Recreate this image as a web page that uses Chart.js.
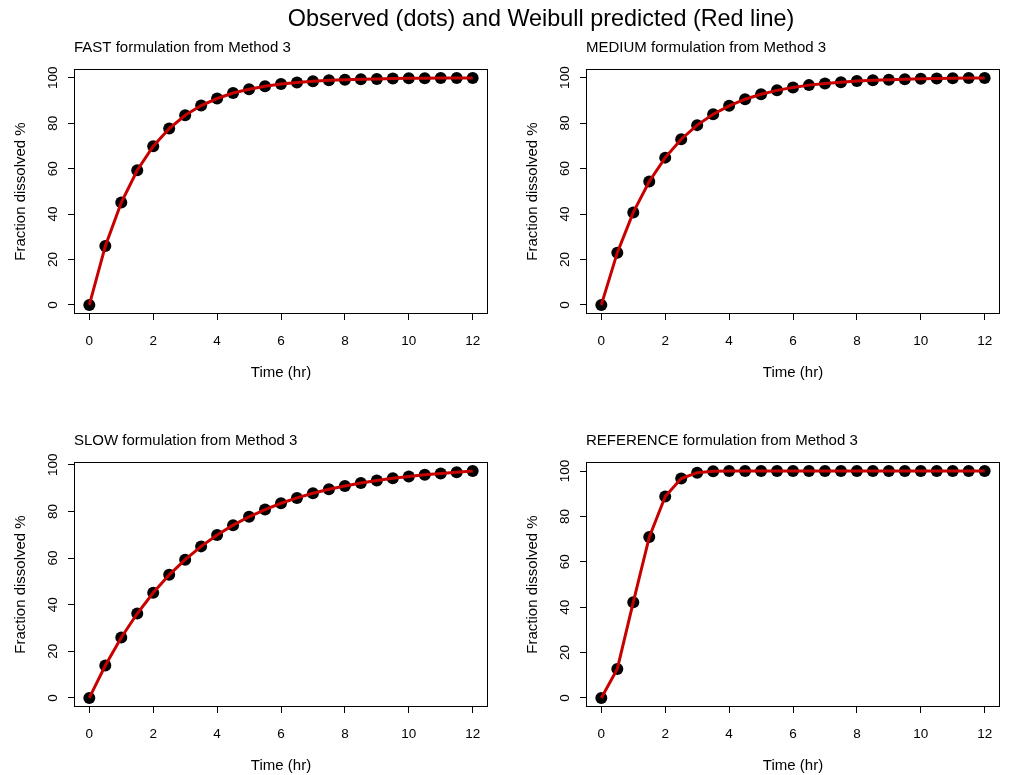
<!DOCTYPE html>
<html>
<head>
<meta charset="utf-8">
<title>Observed (dots) and Weibull predicted (Red line)</title>
<script src="https://cdn.jsdelivr.net/npm/chart.js@4/dist/chart.umd.min.js"></script>
<style>
  html, body { margin: 0; padding: 0; background: #ffffff; }
  body { width: 1017px; height: 775px; position: relative; overflow: hidden; }
  #mainTitle {
    position: absolute; left: 541px; top: 5px; transform: translateX(-50%);
    font-family: 'Liberation Sans', Arial, sans-serif; font-size: 23.4px; line-height: 27px;
    color: #000; white-space: nowrap; z-index: 2;
  }
  canvas { position: absolute; }
</style>
</head>
<body>
<div id="mainTitle">Observed (dots) and Weibull predicted (Red line)</div>
<canvas id="pFast" width="500" height="390" style="left:0px;top:0px"></canvas>
<canvas id="pMedium" width="500" height="390" style="left:511.5px;top:0px"></canvas>
<canvas id="pSlow" width="500" height="390" style="left:0px;top:393px"></canvas>
<canvas id="pReference" width="500" height="390" style="left:511.5px;top:393px"></canvas>
<script>
// Sampling times (hours)
const timeHr = [0, 0.5, 1, 1.5, 2, 2.5, 3, 3.5, 4, 4.5, 5, 5.5, 6, 6.5, 7, 7.5, 8, 8.5, 9, 9.5, 10, 10.5, 11, 11.5, 12];

// Fraction dissolved (%) for each formulation
const fastPct = [0, 25.9, 45.1, 59.3, 69.9, 77.7, 83.5, 87.8, 90.9, 93.3, 95.0, 96.3, 97.3, 98.0, 98.5, 98.9, 99.2, 99.4, 99.5, 99.7, 99.8, 99.8, 99.9, 99.9, 99.9];
const mediumPct = [0, 23.0, 40.7, 54.3, 64.8, 72.9, 79.1, 83.9, 87.6, 90.5, 92.7, 94.4, 95.7, 96.7, 97.4, 98.0, 98.5, 98.8, 99.1, 99.3, 99.5, 99.6, 99.7, 99.8, 99.8];
const slowPct = [0, 13.9, 25.9, 36.2, 45.1, 52.8, 59.3, 65.0, 69.9, 74.1, 77.7, 80.8, 83.5, 85.8, 87.8, 89.5, 90.9, 92.2, 93.3, 94.2, 95.0, 95.7, 96.3, 96.8, 97.3];
const referencePct = [0, 12.8, 42.2, 70.9, 88.8, 96.7, 99.3, 99.9, 100, 100, 100, 100, 100, 100, 100, 100, 100, 100, 100, 100, 100, 100, 100, 100, 100];

// Axis tick labels
const xTicks = [0, 2, 4, 6, 8, 10, 12];
const yTicks = [0, 20, 40, 60, 80, 100];

const FONT = "'Liberation Sans', Arial, sans-serif";
Chart.defaults.font.family = FONT;
Chart.defaults.color = '#000000';

// Solid frame around the plotting region
const framePlugin = {
  id: 'frame',
  beforeDatasetsDraw(chart) {
    const a = chart.chartArea, ctx = chart.ctx;
    ctx.save();
    ctx.strokeStyle = '#000000';
    ctx.lineWidth = 1;
    const l = Math.round(a.left) + 0.5, t = Math.round(a.top) + 0.5;
    const r = Math.round(a.right) - 0.5, b = Math.round(a.bottom) - 0.5;
    ctx.strokeRect(l, t, r - l, b - t);
    ctx.restore();
  }
};

// Pad a data range by 4% on each side
function padded(lo, hi) {
  const d = (hi - lo) * 0.04;
  return [lo - d, hi + d];
}

function makePanel(id, label, values) {
  const pts = timeHr.map((t, i) => ({ x: t, y: values[i] }));
  const [xMin, xMax] = padded(Math.min(...timeHr), Math.max(...timeHr));
  const [yMin, yMax] = padded(Math.min(...values), Math.max(...values));
  new Chart(document.getElementById(id), {
    type: 'scatter',
    data: {
      datasets: [
        {
          label: 'Weibull predicted',
          data: pts,
          showLine: true,
          borderColor: '#C80000',
          borderWidth: 3,
          tension: 0,
          pointRadius: 0,
          fill: false,
          order: 0
        },
        {
          label: 'Observed',
          data: pts,
          showLine: false,
          pointRadius: 6,
          pointBackgroundColor: '#000000',
          pointBorderColor: '#000000',
          pointBorderWidth: 0,
          order: 1
        }
      ]
    },
    options: {
      responsive: false,
      animation: false,
      events: [],
      layout: { padding: { left: 0, right: 12, top: 0, bottom: 8 } },
      plugins: {
        legend: { display: false },
        tooltip: { enabled: false },
        title: {
          display: true,
          text: label,
          align: 'start',
          fullSize: false,
          font: { size: 15, weight: 'normal', family: FONT },
          color: '#000000',
          padding: { top: 39.3, bottom: 11.7 }
        }
      },
      scales: {
        x: {
          type: 'linear',
          min: xMin,
          max: xMax,
          afterBuildTicks: (axis) => { axis.ticks = xTicks.map(v => ({ value: v })); },
          afterFit: (axis) => { axis.height = 68; },
          grid: { display: true, drawOnChartArea: false, drawTicks: true, tickLength: 6, color: '#000000', lineWidth: 1 },
          border: { display: false },
          ticks: {
            autoSkip: false, maxRotation: 0, minRotation: 0, padding: 12.9,
            font: { size: 13.5, family: FONT }, color: '#000000',
            callback: (v) => String(v)
          },
          title: { display: true, text: 'Time (hr)', font: { size: 15, family: FONT }, color: '#000000', padding: { top: 0, bottom: 0 } }
        },
        y: {
          type: 'linear',
          min: yMin,
          max: yMax,
          afterBuildTicks: (axis) => { axis.ticks = yTicks.map(v => ({ value: v })); },
          afterFit: (axis) => { axis.width = 74; },
          grid: { display: true, drawOnChartArea: false, drawTicks: true, tickLength: 6, color: '#000000', lineWidth: 1 },
          border: { display: false },
          ticks: {
            autoSkip: false, minRotation: 90, maxRotation: 90, crossAlign: 'center', padding: 3.5,
            font: { size: 13.5, family: FONT }, color: '#000000',
            callback: (v) => String(v)
          },
          title: { display: true, text: 'Fraction dissolved %', font: { size: 15, family: FONT }, color: '#000000', padding: { top: 11.7, bottom: 0 } }
        }
      }
    },
    plugins: [framePlugin]
  });
}

makePanel('pFast', 'FAST formulation from Method 3', fastPct);
makePanel('pMedium', 'MEDIUM formulation from Method 3', mediumPct);
makePanel('pSlow', 'SLOW formulation from Method 3', slowPct);
makePanel('pReference', 'REFERENCE formulation from Method 3', referencePct);
</script>
</body>
</html>
